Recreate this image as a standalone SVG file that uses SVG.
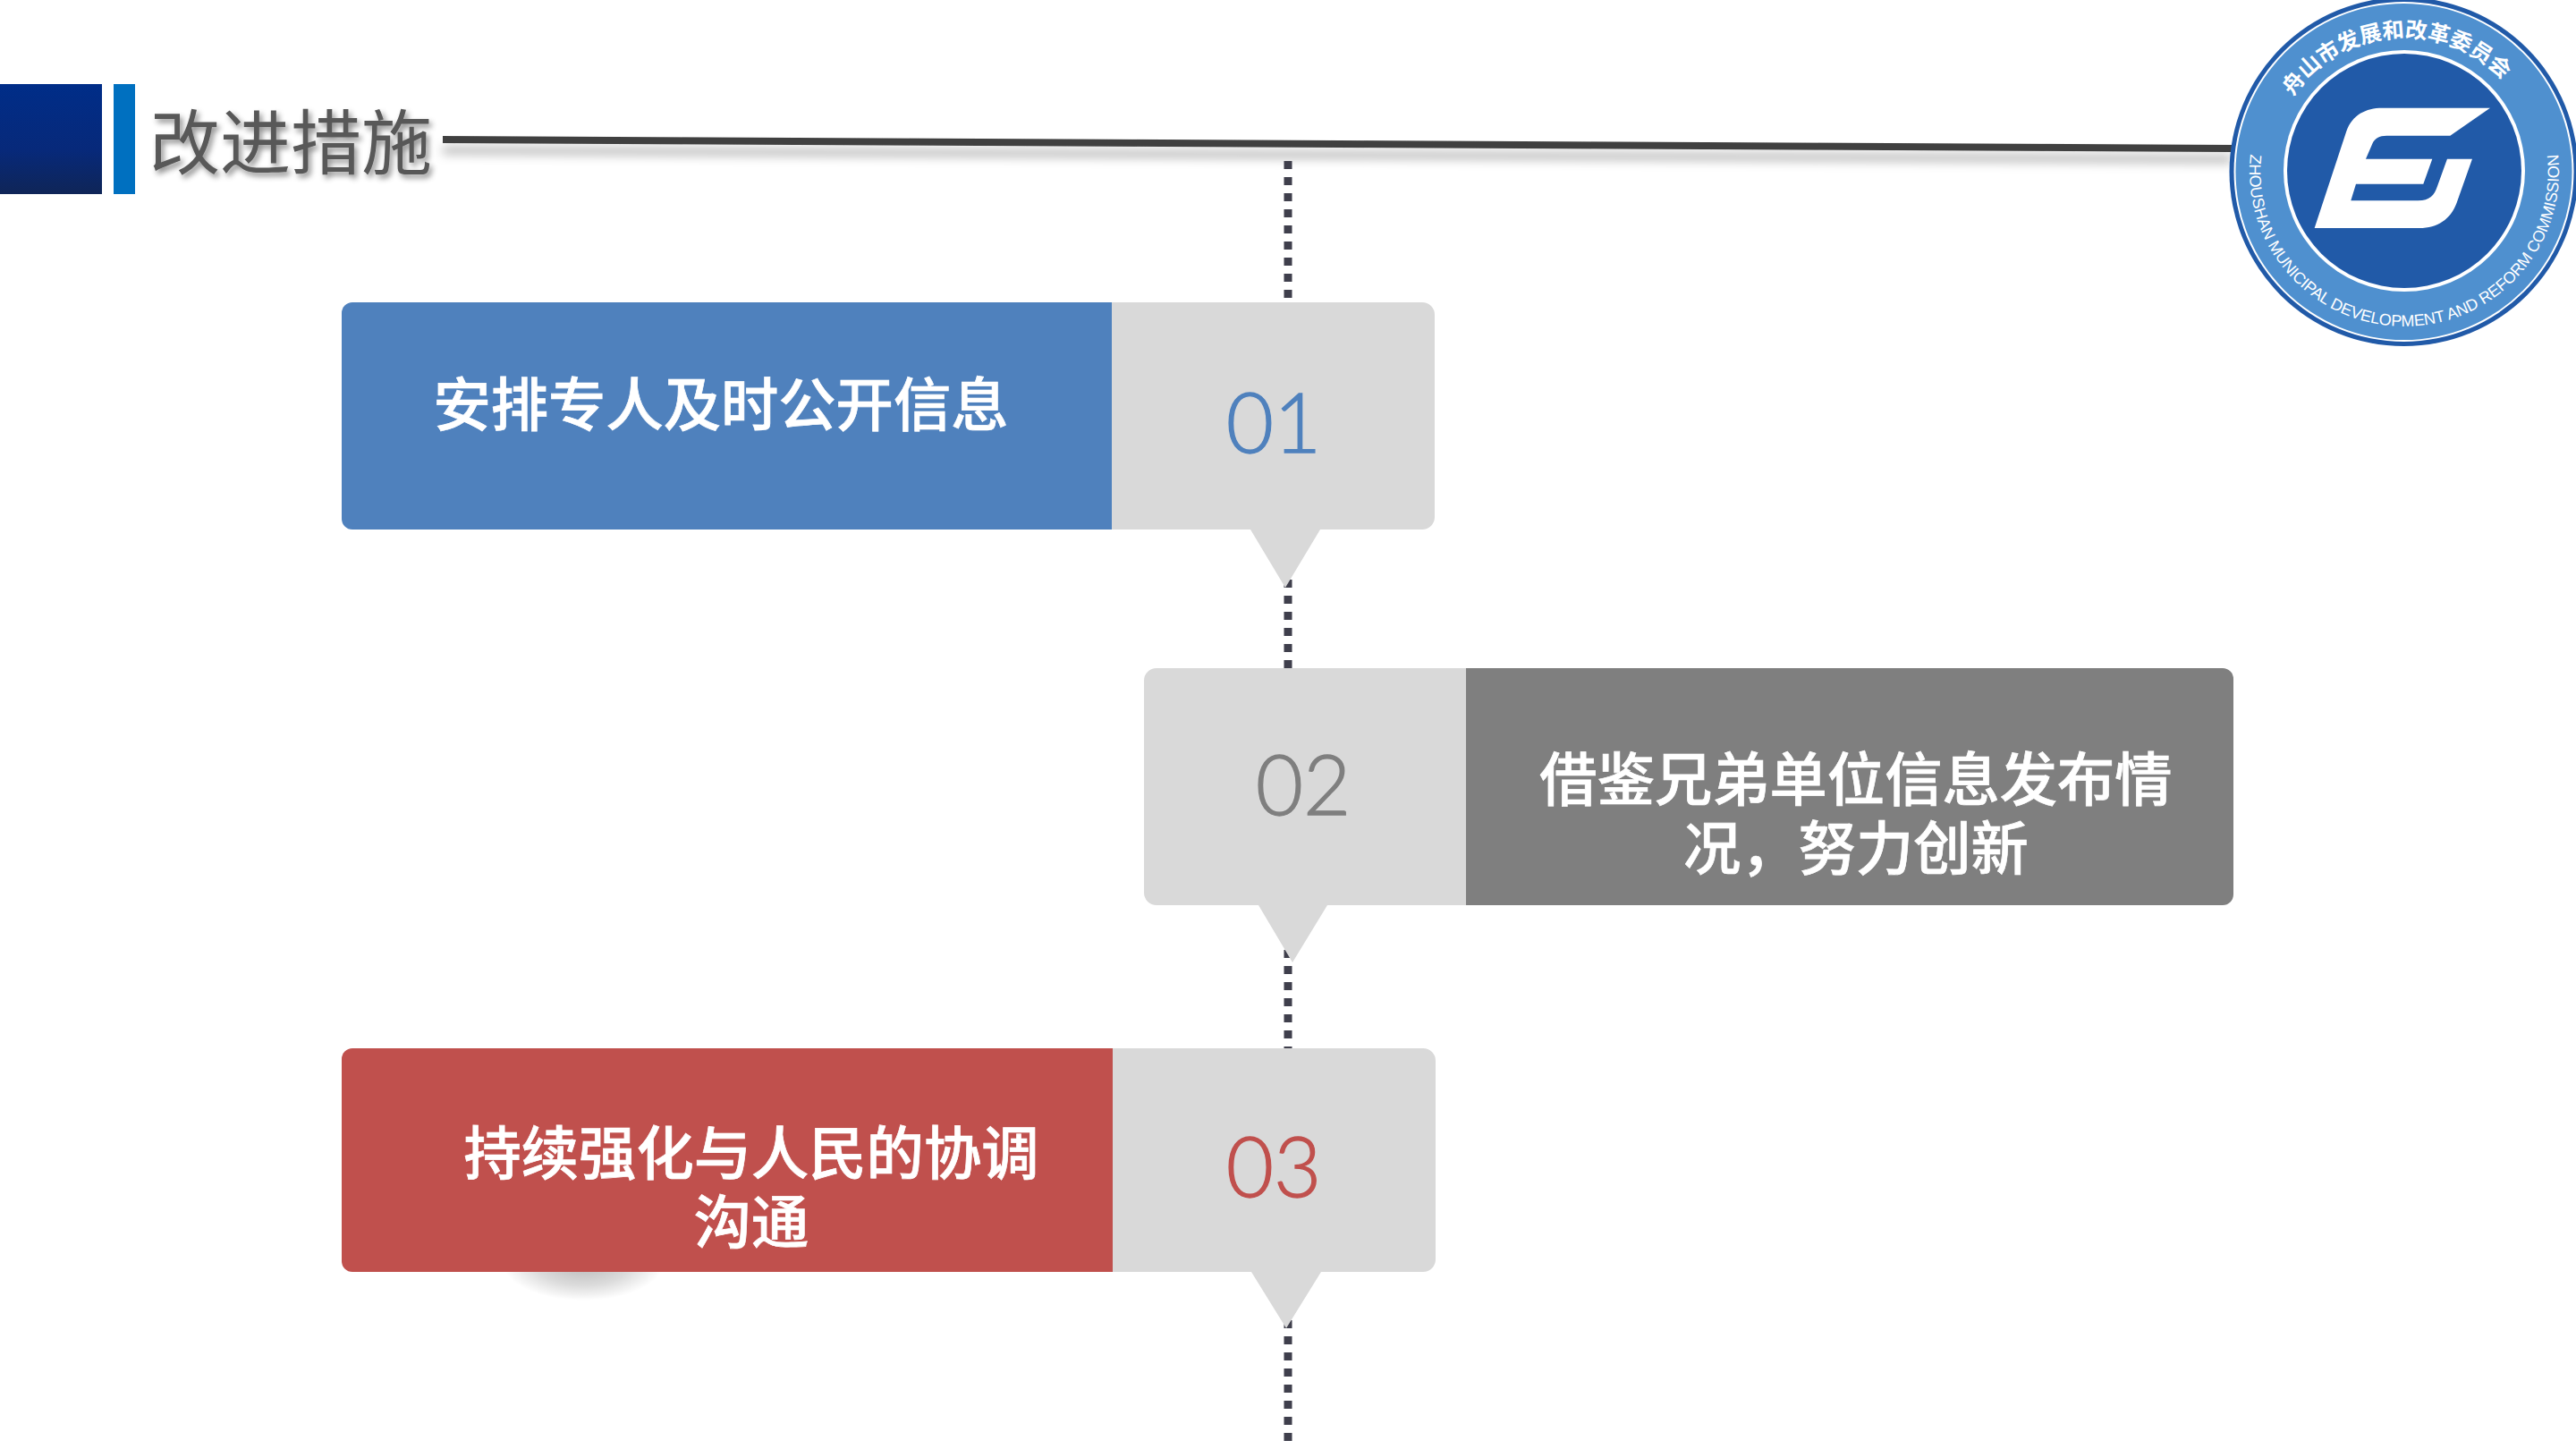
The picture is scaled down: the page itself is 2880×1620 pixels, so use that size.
<svg xmlns="http://www.w3.org/2000/svg" width="2880" height="1620" viewBox="0 0 2880 1620">
<style>
.cjk{font-family:"Noto Sans CJK SC","Noto Sans",sans-serif}
.lab{font-size:64.3px;font-weight:500;fill:#fff;stroke:#fff;stroke-width:.7px;text-anchor:middle}
.num{font-family:Lato,"Open Sans",sans-serif;font-weight:300;font-size:92px;text-anchor:middle;stroke-width:1.3px}
.tail{fill:#d9d9d9}
</style>
<defs>
<linearGradient id="hd" x1="0" y1="0" x2="0" y2="1"><stop offset="0" stop-color="#002d88"/><stop offset="0.6" stop-color="#07297a"/><stop offset="1" stop-color="#0f2557"/></linearGradient>
<radialGradient id="blob"><stop offset="0" stop-color="#000" stop-opacity=".28"/><stop offset="0.6" stop-color="#000" stop-opacity=".14"/><stop offset="1" stop-color="#000" stop-opacity="0"/></radialGradient>
<filter id="ts" x="-10%" y="-20%" width="120%" height="150%"><feDropShadow dx="3" dy="4" stdDeviation="3" flood-color="#000" flood-opacity=".45"/></filter>
<filter id="ls" x="-1%" y="-400%" width="102%" height="1200%"><feDropShadow dx="0" dy="12" stdDeviation="6" flood-color="#000" flood-opacity=".3"/></filter>
<path id="arcTop" d="M2538 192A150 150 0 0 1 2838 192"/>
<path id="arcBot" d="M2525.4 132.8A173 173 0 1 0 2850.6 132.8"/>
</defs>
<rect width="2880" height="1620" fill="#fff"/>
<g id="connectors">
<polygon points="495,152 2495,162 2495,170 495,160" fill="#404040" filter="url(#ls)"/>
<path d="M1440 180V1620" stroke="#3f3f4c" stroke-width="9" stroke-dasharray="9 9" fill="none"/>
</g>
<g id="header">
<rect x="0" y="94" width="114" height="123" fill="url(#hd)"/>
<rect x="127" y="94" width="24" height="123" fill="#0070c0"/>
<text x="167" y="189" class="cjk" font-size="79" fill="#595959" filter="url(#ts)">改进措施</text>
</g>
<g id="node1">
<path d="M1243 338H1590a14 14 0 0 1 14 14V578a14 14 0 0 1-14 14H1476L1437 657 1398 592H1243Z" class="tail"/>
<path d="M1243 338H394a12 12 0 0 0-12 12V580a12 12 0 0 0 12 12H1243Z" fill="#4f81bd"/>
<text x="806" y="476" class="cjk lab">安排专人及时公开信息</text>
<text x="1424" y="506" class="num" fill="#4f81bd" stroke="#4f81bd">01</text>
</g>
<g id="node2">
<path d="M1639 747H1293a14 14 0 0 0-14 14V998a14 14 0 0 0 14 14H1407L1445 1076 1484 1012H1639Z" class="tail"/>
<path d="M1639 747H2485a12 12 0 0 1 12 12V1000a12 12 0 0 1-12 12H1639Z" fill="#7f7f7f"/>
<text x="2075" y="895" class="cjk lab">借鉴兄弟单位信息发布情</text>
<text x="2075" y="972" class="cjk lab">况，努力创新</text>
<text x="1457" y="911" class="num" fill="#7f7f7f" stroke="#7f7f7f">02</text>
</g>
<g id="node3">
<ellipse cx="652" cy="1412" rx="90" ry="42" fill="url(#blob)"/>
<path d="M1244 1172H1591a14 14 0 0 1 14 14V1408a14 14 0 0 1-14 14H1477L1438 1485 1399 1422H1244Z" class="tail"/>
<path d="M1244 1172H394a12 12 0 0 0-12 12V1410a12 12 0 0 0 12 12H1244Z" fill="#c0504d"/>
<text x="840" y="1313" class="cjk lab">持续强化与人民的协调</text>
<text x="840" y="1390" class="cjk lab">沟通</text>
<text x="1424" y="1338" class="num" fill="#c0504d" stroke="#c0504d">03</text>
</g>
<g id="logo">
<circle cx="2687.5" cy="192" r="195" fill="#215aa8"/>
<circle cx="2687.5" cy="192" r="190" fill="#fff"/>
<circle cx="2687.5" cy="192" r="188" fill="#4f90cf"/>
<circle cx="2688" cy="191" r="135" fill="#fff"/>
<circle cx="2688" cy="191" r="131" fill="#215aa8"/>
<path transform="translate(2460 0) scale(.3333)" fill="#fff" d="M383 765L490 440C510 385 555 362 610 362H972L838 455H625C600 455 585 465 578 480L555 533H778L748 617H522L505 673H730C770 673 785 655 795 625L828 533H912L860 680C840 735 795 765 735 765Z"/>
<text class="cjk" font-size="24.5" font-weight="700" fill="#fff" text-anchor="middle"><textPath href="#arcTop" startOffset="47.5%">舟山市发展和改革委员会</textPath></text>
<text font-family="Liberation Sans,sans-serif" font-size="18" fill="#fff" text-anchor="middle"><textPath href="#arcBot" startOffset="50%" textLength="582" lengthAdjust="spacing">ZHOUSHAN MUNICIPAL DEVELOPMENT AND REFORM COMMISSION</textPath></text>
</g>
</svg>
